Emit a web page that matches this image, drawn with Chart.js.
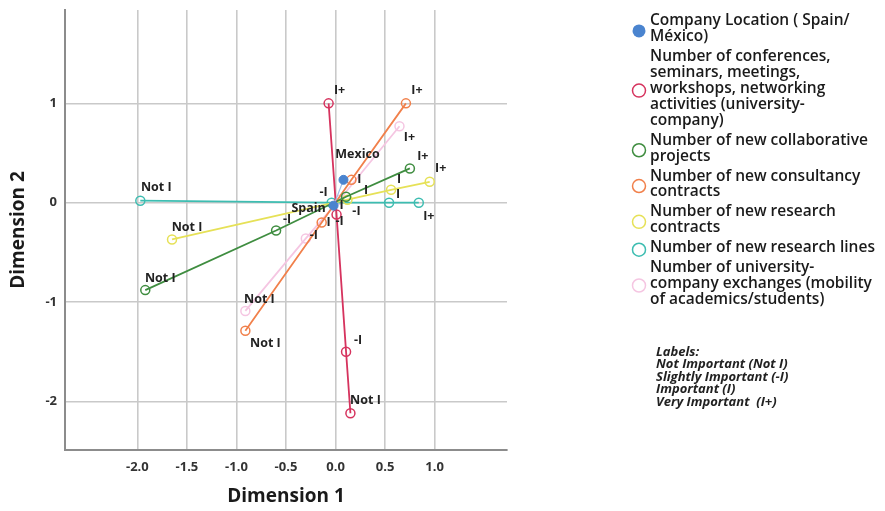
<!DOCTYPE html>
<html>
<head>
<meta charset="utf-8">
<script src="https://cdn.jsdelivr.net/npm/chart.js@4.4.1/dist/chart.umd.min.js"></script>
<style>
  html, body { margin: 0; padding: 0; background: #fff; }
</style>
</head>
<body>
<canvas id="biplot" width="885" height="511"></canvas>
<script>
// categories of every variable (order of the line)
const categories = ["Not I", "-I", "I", "I+"];

// company location points
const locationNames = ["Spain", "Mexico"];
const locationX = [-0.02, 0.08];
const locationY = [-0.03, 0.23];

// category points per variable
const conferencesX = [0.15, 0.106, 0.01, -0.07];
const conferencesY = [-2.12, -1.50, -0.12, 1.00];
const collaborativeX = [-1.92, -0.60, 0.106, 0.75];
const collaborativeY = [-0.88, -0.28, 0.06, 0.345];
const consultancyX = [-0.91, -0.14, 0.16, 0.71];
const consultancyY = [-1.29, -0.20, 0.23, 1.00];
const researchContractsX = [-1.65, 0.12, 0.56, 0.95];
const researchContractsY = [-0.37, 0.03, 0.13, 0.21];
const researchLinesX = [-1.97, -0.04, 0.54, 0.84];
const researchLinesY = [0.02, 0.00, 0.00, 0.00];
const exchangesX = [-0.91, -0.30, 0.04, 0.645];
const exchangesY = [-1.09, -0.36, 0.03, 0.77];

// axis ticks
const xTicks = [-2.0, -1.5, -1.0, -0.5, 0.0, 0.5, 1.0];
const yTicks = [-2, -1, 0, 1];

// legend text, broken as in the original
const legendLines = [
  ["Company Location ( Spain/", "México)"],
  ["Number of conferences,", "seminars, meetings,", "workshops, networking", "activities (university-", "company)"],
  ["Number of new collaborative", "projects"],
  ["Number of new consultancy", "contracts"],
  ["Number of new research", "contracts"],
  ["Number of new research lines"],
  ["Number of university-", "company exchanges (mobility", "of academics/students)"]
];
const labelNotes = ["Labels:", "Not Important (Not I)", "Slightly Important (-I)", "Important (I)", "Very Important  (I+)"];

// where each point's label sits relative to its point (pixels)
const labelOffsets = [
  [[-25, 3], [14, -25]],
  [[15, -13], [12, -11], [-8, 8], [11, -13]],
  [[15, -12], [11, -11], [20, -6], [13, -12]],
  [[20, 13], [18, -1], [8, 0], [11, -13]],
  [[15, -12], [9, 12], [8, -10], [11, -13]],
  [[16, -13], [-8, -10], [9, -8], [10, 14]],
  [[14, -12], [8, -3], [2, 6], [10, 11]]
];

const colors = ["#4a84cf", "#d6335e", "#3f8d40", "#f1804b", "#e6e157", "#3dbdb1", "#f5c6e2"];

const FONT = '"Open Sans", "DejaVu Sans", sans-serif';

function points(xs, ys) {
  return xs.map((x, i) => ({ x: x, y: ys[i] }));
}

function series(i, xs, ys, names) {
  return {
    label: legendLines[i].join(" "),
    data: points(xs, ys),
    pointNames: names,
    showLine: true,
    borderColor: colors[i],
    borderWidth: 1.8,
    pointRadius: 4.5,
    pointBorderWidth: 1.5,
    pointBorderColor: colors[i],
    pointBackgroundColor: "rgba(255,255,255,0)"
  };
}

const datasets = [
  {
    label: legendLines[0].join(" "),
    data: points(locationX, locationY),
    pointNames: locationNames,
    showLine: true,
    borderColor: "#9dbde8",
    borderWidth: 1.2,
    pointRadius: 4.5,
    pointBorderWidth: 1,
    pointBorderColor: colors[0],
    pointBackgroundColor: colors[0]
  },
  series(1, conferencesX, conferencesY, categories),
  series(2, collaborativeX, collaborativeY, categories),
  series(3, consultancyX, consultancyY, categories),
  series(4, researchContractsX, researchContractsY, categories),
  series(5, researchLinesX, researchLinesY, categories),
  series(6, exchangesX, exchangesY, categories)
];

const pointLabelPlugin = {
  id: "pointLabels",
  afterDatasetsDraw(chart) {
    const ctx = chart.ctx;
    ctx.save();
    ctx.font = "bold 12.5px " + FONT;
    ctx.fillStyle = "#222";
    ctx.textAlign = "center";
    ctx.textBaseline = "middle";
    chart.data.datasets.forEach((ds, di) => {
      const meta = chart.getDatasetMeta(di);
      meta.data.forEach((pt, pi) => {
        const off = labelOffsets[di][pi];
        ctx.fillText(ds.pointNames[pi], pt.x + off[0], pt.y + off[1]);
      });
    });
    ctx.restore();
  }
};

const sideLegendPlugin = {
  id: "sideLegend",
  afterDraw(chart) {
    const ctx = chart.ctx;
    ctx.save();
    ctx.font = "600 15.5px " + FONT;
    ctx.textBaseline = "middle";
    ctx.textAlign = "left";
    let y = 21;
    legendLines.forEach((lines, i) => {
      const first = y;
      lines.forEach(line => {
        ctx.fillStyle = "#1a1a1a";
        ctx.fillText(line, 650, y);
        y += 15.9;
      });
      const last = y - 15.9;
      const my = (first + last) / 2 + 2;
      ctx.beginPath();
      ctx.arc(639, my, 6.5, 0, Math.PI * 2);
      if (i === 0) {
        ctx.fillStyle = colors[0];
        ctx.fill();
      } else {
        ctx.strokeStyle = colors[i];
        ctx.lineWidth = 1.5;
        ctx.stroke();
      }
      y += 4;
    });

    ctx.font = "italic bold 13px " + FONT;
    ctx.fillStyle = "#222";
    labelNotes.forEach((line, i) => {
      ctx.fillText(line, 656, 352 + i * 12.5);
    });
    ctx.restore();
  }
};

new Chart(document.getElementById("biplot"), {
  type: "scatter",
  data: { datasets: datasets },
  options: {
    responsive: false,
    animation: false,
    layout: { padding: { left: 0, right: 378, top: 10, bottom: 0 } },
    plugins: {
      legend: { display: false },
      tooltip: { enabled: false }
    },
    scales: {
      x: {
        type: "linear",
        min: -2.73,
        max: 1.73,
        afterBuildTicks: scale => { scale.ticks = xTicks.map(v => ({ value: v })); },
        afterFit: scale => {
          scale.height = 61;
          scale.paddingLeft = 0;
          scale.paddingRight = 0;
        },
        grid: { color: "#c9c9c9", lineWidth: 1.6, drawTicks: false },
        border: { color: "#8c8c8c", width: 2 },
        ticks: {
          padding: 9,
          color: "#333",
          font: { family: FONT, size: 13, weight: "bold" },
          callback: v => v.toFixed(1)
        },
        title: {
          display: true,
          text: "Dimension 1",
          color: "#1a1a1a",
          font: { family: FONT, size: 19, weight: "bold" },
          padding: { bottom: 3 }
        }
      },
      y: {
        type: "linear",
        min: -2.49,
        max: 1.94,
        afterBuildTicks: scale => { scale.ticks = yTicks.map(v => ({ value: v })); },
        afterFit: scale => {
          scale.width = 65;
          scale.paddingTop = 0;
          scale.paddingBottom = 0;
        },
        grid: { color: "#c9c9c9", lineWidth: 1.6, drawTicks: false },
        border: { color: "#8c8c8c", width: 2 },
        ticks: {
          padding: 8,
          color: "#333",
          font: { family: FONT, size: 13, weight: "bold" },
          callback: v => String(v)
        },
        title: {
          display: true,
          text: "Dimension 2",
          color: "#1a1a1a",
          font: { family: FONT, size: 19, weight: "bold" },
          padding: { top: 7 }
        }
      }
    }
  },
  plugins: [pointLabelPlugin, sideLegendPlugin]
});
</script>
</body>
</html>
